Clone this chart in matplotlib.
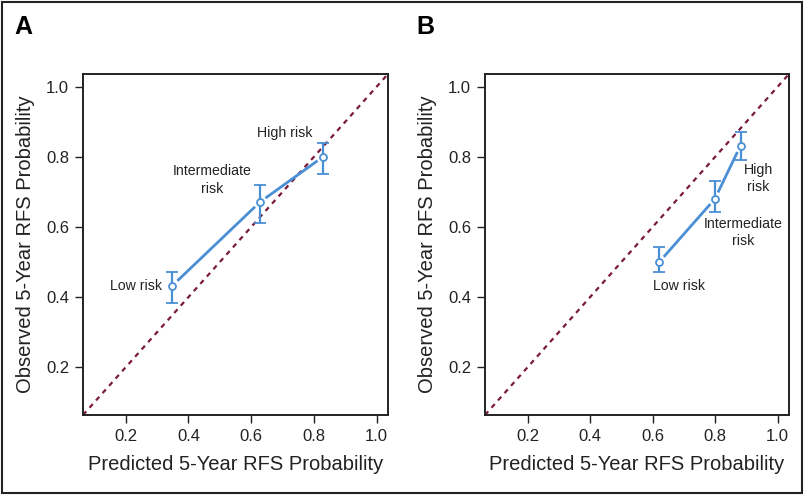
import numpy as np
import matplotlib
matplotlib.use("Agg")
from matplotlib import pyplot as plt
from matplotlib.patches import Rectangle

plt.rcParams["font.family"] = ["Liberation Sans Narrow", "Liberation Sans", "DejaVu Sans"]

# panel A: predicted vs observed 5-year RFS
risk_groups = ["Low risk", "Intermediate\nrisk", "High risk"]
pred_a = [0.349, 0.628, 0.829]
obs_a = [0.433, 0.671, 0.800]
lo_a = [0.382, 0.611, 0.751]
hi_a = [0.471, 0.720, 0.838]

# panel B
risk_groups_b = ["Low risk", "Intermediate\nrisk", "High\nrisk"]
pred_b = [0.621, 0.799, 0.881]
obs_b = [0.500, 0.680, 0.832]
lo_b = [0.471, 0.642, 0.790]
hi_b = [0.542, 0.731, 0.870]

ticks = [0.2, 0.4, 0.6, 0.8, 1.0]
lims = (0.064, 1.036)

BLUE = "#4a8fd6"
RED = "#7a1a3c"


def draw_panel(ax, pred, obs, lo, hi, labels, label_pos, label_ha):
    ax.plot(lims, lims, ls=(0, (2.2, 2.2)), color=RED, lw=1.6, zorder=1)
    pred = np.array(pred)
    obs = np.array(obs)
    # type="b" style: segments with gaps around points
    gap = 0.025
    for i in range(len(pred) - 1):
        p0 = np.array([pred[i], obs[i]])
        p1 = np.array([pred[i + 1], obs[i + 1]])
        d = p1 - p0
        u = d / np.hypot(*d)
        a = p0 + u * gap
        b = p1 - u * gap
        ax.plot([a[0], b[0]], [a[1], b[1]], color=BLUE, lw=2.0, zorder=2)
    ax.errorbar(pred, obs, yerr=[obs - np.array(lo), np.array(hi) - obs],
                fmt="o", mfc="white", mec=BLUE, ms=5, mew=1.3,
                ecolor=BLUE, elinewidth=1.6, capsize=4, capthick=1.6, zorder=3)
    for txt, (x, y), ha in zip(labels, label_pos, label_ha):
        ax.text(x, y, txt, ha=ha, va="center", fontsize=10.2,
                color="#222222", linespacing=1.3)
    ax.set_xlim(lims)
    ax.set_ylim(lims)
    ax.set_xticks(ticks)
    ax.set_yticks(ticks)
    ax.set_xticklabels(["%.1f" % t for t in ticks])
    ax.set_yticklabels(["%.1f" % t for t in ticks])
    ax.tick_params(direction="out", length=6, width=1.0, labelsize=12,
                   colors="#222222", pad=4)
    for s in ax.spines.values():
        s.set_linewidth(1.4)
        s.set_color("#222222")
    ax.set_xlabel("Predicted 5-Year RFS Probability", fontsize=14.5,
                  color="#222222", labelpad=8)
    ax.set_ylabel("Observed 5-Year RFS Probability", fontsize=14.5,
                  color="#222222", labelpad=8)


fig = plt.figure(figsize=(8.05, 4.95), dpi=100)
W, H = 805.0, 495.0
ax_a = fig.add_axes([83 / W, 1 - 415 / H, 305 / W, 341 / H])
ax_b = fig.add_axes([485 / W, 1 - 415 / H, 304 / W, 341 / H])

draw_panel(ax_a, pred_a, obs_a, lo_a, hi_a, risk_groups,
           [(0.315, 0.433), (0.476, 0.734), (0.706, 0.867)],
           ["right", "center", "center"])
draw_panel(ax_b, pred_b, obs_b, lo_b, hi_b, risk_groups_b,
           [(0.684, 0.431), (0.89, 0.584), (0.938, 0.739)],
           ["center", "center", "center"])

fig.text(14 / W, 1 - 27 / H, "A", fontsize=18, fontweight="bold",
         family=["Liberation Sans", "DejaVu Sans"], va="center", ha="left")
fig.text(416 / W, 1 - 27 / H, "B", fontsize=18, fontweight="bold",
         family=["Liberation Sans", "DejaVu Sans"], va="center", ha="left")

fig.patches.append(Rectangle((2 / W, 2 / H), 800 / W, 491 / H, fill=False,
                             lw=1.5, edgecolor="#222222",
                             transform=fig.transFigure, figure=fig))

fig.savefig("out.png", dpi=100)
